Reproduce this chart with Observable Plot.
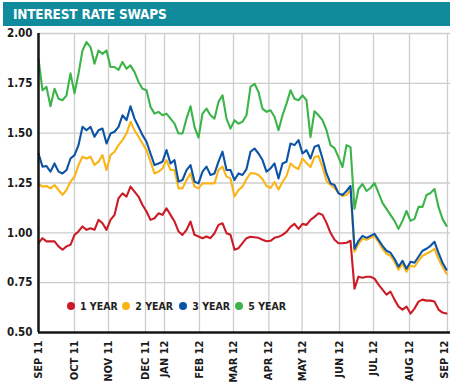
<!DOCTYPE html>
<html><head><meta charset="utf-8">
<script src="https://cdn.jsdelivr.net/npm/d3@7"></script>
<script src="https://cdn.jsdelivr.net/npm/@observablehq/plot@0.6"></script>
<style>
body{margin:0;background:#fff;}
#wrap{position:relative;width:450px;height:386px;overflow:hidden;font-family:"DejaVu Sans Condensed","DejaVu Sans",sans-serif;}
#head{position:absolute;left:3px;top:2px;width:447px;height:24px;background:#0f8b9c;color:#fff;font-weight:bold;font-size:13.5px;line-height:25px;padding-left:10px;box-sizing:border-box;letter-spacing:-0.2px;}
#chart{position:absolute;left:0;top:0;}
.lg{position:absolute;top:299px;height:14px;display:flex;align-items:center;font-weight:bold;font-size:10.5px;color:#222;white-space:nowrap;}
.lg i{display:inline-block;width:8.5px;height:8.5px;border-radius:50%;margin-right:5px;}
</style>
</head><body>
<div id="wrap"><div id="chart"></div><div id="head">INTEREST RATE SWAPS</div></div>
<script>
// Chart values (sampled observations, Sep 2011 - Sep 2012)
const oneYear = [0.948,0.973,0.957,0.957,0.957,0.932,0.915,0.932,0.94,0.99,1.007,1.032,1.015,1.023,1.015,1.065,1.048,1.015,1.065,1.09,1.173,1.198,1.182,1.232,1.207,1.182,1.14,
1.107,1.065,1.073,1.098,1.09,1.123,1.09,1.057,1.007,0.99,1.015,1.057,0.99,0.982,0.973,0.982,0.973,0.998,1.04,1.048,0.998,0.99,0.915,0.923,0.948,0.973,
0.98,0.978,0.975,0.965,0.958,0.96,0.975,0.98,0.99,1.005,1.03,1.045,1.02,1.045,1.04,1.065,1.08,1.098,1.09,1.05,1.0,0.965,0.948,0.948,0.95,0.96,
0.72,0.78,0.775,0.78,0.78,0.77,0.74,0.715,0.69,0.705,0.665,0.63,0.615,0.63,0.595,0.62,0.655,0.665,0.66,0.66,0.655,0.615,0.6,0.595];
const twoYear = [1.245,1.232,1.235,1.223,1.24,1.215,1.19,1.215,1.257,1.282,1.34,1.382,1.373,1.382,1.34,1.357,1.39,1.315,1.39,1.407,1.44,1.465,1.498,1.557,1.515,1.482,1.448,
1.415,1.357,1.298,1.307,1.323,1.365,1.315,1.315,1.223,1.223,1.265,1.298,1.232,1.223,1.248,1.248,1.248,1.248,1.315,1.332,1.282,1.273,1.182,1.215,1.232,1.27,
1.30,1.298,1.29,1.27,1.235,1.225,1.255,1.218,1.255,1.285,1.348,1.33,1.32,1.373,1.35,1.33,1.38,1.385,1.33,1.26,1.24,1.225,1.2,1.185,1.19,1.215,
0.905,0.945,0.97,0.965,0.975,0.985,0.955,0.92,0.895,0.885,0.855,0.815,0.845,0.805,0.835,0.83,0.86,0.885,0.895,0.905,0.92,0.87,0.83,0.795];
const threeYear = [1.398,1.332,1.335,1.307,1.348,1.307,1.298,1.315,1.373,1.39,1.44,1.532,1.515,1.532,1.482,1.515,1.523,1.448,1.498,1.507,1.532,1.59,1.565,1.635,1.573,1.532,1.49,
1.457,1.398,1.34,1.348,1.357,1.415,1.348,1.365,1.257,1.265,1.315,1.34,1.257,1.248,1.307,1.332,1.29,1.298,1.357,1.407,1.315,1.315,1.265,1.298,1.29,1.32,
1.407,1.423,1.398,1.365,1.307,1.323,1.348,1.273,1.348,1.357,1.448,1.44,1.465,1.398,1.415,1.373,1.432,1.44,1.373,1.298,1.248,1.24,1.198,1.19,1.21,1.235,
0.92,0.96,0.985,0.975,0.985,0.995,0.965,0.935,0.91,0.9,0.87,0.83,0.86,0.82,0.855,0.85,0.88,0.91,0.92,0.935,0.955,0.9,0.85,0.815];
const fiveYear = [1.873,1.715,1.732,1.635,1.723,1.673,1.665,1.69,1.80,1.70,1.798,1.915,1.957,1.932,1.848,1.915,1.898,1.915,1.832,1.832,1.818,1.857,1.823,1.84,1.807,1.757,1.723,
1.715,1.632,1.598,1.607,1.59,1.598,1.573,1.548,1.498,1.498,1.573,1.635,1.532,1.478,1.598,1.623,1.59,1.573,1.657,1.69,1.573,1.523,1.565,1.548,1.557,1.59,
1.732,1.748,1.707,1.623,1.607,1.615,1.582,1.515,1.59,1.648,1.715,1.673,1.665,1.69,1.665,1.48,1.61,1.59,1.565,1.515,1.44,1.425,1.38,1.33,1.44,1.43,
1.12,1.22,1.245,1.21,1.225,1.25,1.2,1.15,1.12,1.09,1.06,1.02,1.06,1.11,1.06,1.07,1.13,1.13,1.19,1.2,1.22,1.13,1.07,1.035];

const seriesNames = ["1 YEAR","2 YEAR","3 YEAR","5 YEAR"];
const seriesColors = ["#cc1b26","#fbb416","#0b53a6","#3cb44a"];
const monthLabels = ["SEP 11","OCT 11","NOV 11","DEC 11","JAN 12","FEB 12","MAR 12","APR 12","MAY 12","JUN 12","JUL 12","AUG 12","SEP 12"];
const monthPos = [0,9,17.5,26.75,31.5,40.25,48.75,57.6,65.9,75.25,83.75,92.75,102.25];
const yTicks = [0.5,0.75,1.0,1.25,1.5,1.75,2.0];

const allSeries = [oneYear, twoYear, threeYear, fiveYear];
const rows = [];
allSeries.forEach((arr, s) => arr.forEach((v, i) => rows.push({obs: i, value: v, series: seriesNames[s]})));
const labelMap = new Map(monthPos.map((p, i) => [p, monthLabels[i]]));
const xAxisOpts = {tickFormat: d => labelMap.get(d), tickRotate: -90, tickSize: 0, tickPadding: 8, label: null, fontSize: 11, fontWeight: "bold", fill: "#1a1a1a"};

const chart = Plot.plot({
  width: 450, height: 386,
  marginLeft: 38, marginRight: 0, marginTop: 33, marginBottom: 54,
  style: {fontFamily: '"DejaVu Sans Condensed","DejaVu Sans",sans-serif', background: "transparent", overflow: "visible"},
  x: {domain: [0, 103], axis: null},
  y: {domain: [0.5, 2.0], axis: null},
  color: {domain: seriesNames, range: seriesColors},
  marks: [
    Plot.ruleY(yTicks.slice(1), {stroke: "#cdcdcd", strokeWidth: 1.3}),
    Plot.ruleX(monthPos.slice(1), {stroke: "#cdcdcd", strokeWidth: 1.3}),
    ...seriesNames.map((name, s) => Plot.lineY(rows.filter(r => r.series === name), {x: "obs", y: "value", stroke: seriesColors[s], strokeWidth: 2.1, strokeLinejoin: "round"})),
    Plot.ruleX([0], {y1: 0.5, y2: 2.0, stroke: "#151515", strokeWidth: 2.5}),
    Plot.ruleY([0.5], {stroke: "#151515", strokeWidth: 2.5}),
    Plot.axisY({ticks: yTicks, tickFormat: d3.format(".2f"), tickSize: 0, tickPadding: 6, label: null, fontSize: 11.5, fontWeight: "bold", fill: "#1a1a1a"}),
    Plot.axisX({...xAxisOpts, ticks: monthPos.slice(0, -1)}),
    Plot.axisX({...xAxisOpts, ticks: monthPos.slice(-1), dx: -3})
  ]
});
document.getElementById("chart").appendChild(chart);

// Legend
const legendLeft = [66.5, 121.8, 178.8, 234.8];
const wrap = document.getElementById("wrap");
seriesNames.forEach((name, i) => {
  const d = document.createElement("div");
  d.className = "lg";
  d.style.left = legendLeft[i] + "px";
  d.innerHTML = `<i style="background:${seriesColors[i]}"></i>${name}`;
  wrap.appendChild(d);
});
</script>
</body></html>
